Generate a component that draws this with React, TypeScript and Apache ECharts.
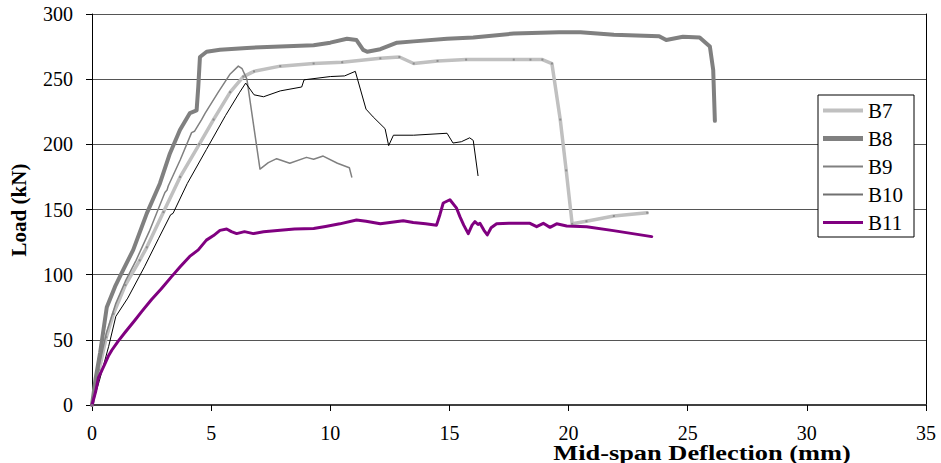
import React, { useEffect, useRef } from "react";
import * as echarts from "echarts";

// Mid-span deflection (mm), load (kN) pairs
const B7: [number, number][] = [
  [0, 0], [0.3, 27], [0.6, 52], [0.9, 70], [1.4, 92], [2.0, 111], [2.3, 121], [3.0, 148],
  [3.7, 175], [4.5, 200], [5.1, 219], [5.8, 240], [6.35, 252], [6.8, 256], [7.9, 260],
  [9.3, 262], [10.5, 263], [12.1, 266], [12.9, 267], [13.5, 262], [14.5, 264], [15.7, 265],
  [17.7, 265], [18.4, 265], [18.9, 265], [19.3, 262], [19.65, 219], [19.9, 180], [20.15, 139],
  [20.75, 141], [21.9, 145], [23.3, 147.5],
];
const B8: [number, number][] = [
  [0, 0], [0.15, 20], [0.34, 40], [0.62, 75], [0.97, 91], [1.32, 104], [1.73, 119], [2.3, 147],
  [2.85, 170], [3.27, 193], [3.69, 211], [4.11, 224], [4.39, 226], [4.46, 244], [4.53, 267],
  [4.81, 271], [5.37, 272.5], [6.5, 274], [7.9, 275], [9.3, 276], [10.0, 278], [10.7, 281],
  [11.1, 280], [11.38, 272.5], [11.55, 271], [12.1, 273], [12.8, 278], [13.5, 279], [14.9, 281],
  [16.0, 282], [17.7, 285], [19.6, 286], [20.5, 286], [21.9, 284], [23.8, 283], [24.1, 280],
  [24.8, 282.5], [25.5, 282], [25.93, 275], [26.07, 257], [26.14, 218],
];
const B9: [number, number][] = [
  [0, 0], [0.3, 30], [0.6, 55], [1.0, 78], [1.4, 95], [1.85, 111], [2.4, 133], [3.06, 163],
  [3.15, 165], [3.2, 168], [3.7, 188], [4.18, 209], [4.3, 210], [4.6, 219], [4.75, 224],
  [5.3, 240], [5.8, 254], [6.14, 260], [6.3, 258], [6.5, 250], [7.05, 181], [7.4, 186],
  [7.75, 189], [8.3, 185.5], [9.0, 190], [9.3, 188.5], [9.7, 191], [10.3, 185.5], [10.8, 182],
  [10.9, 175],
];
const B10: [number, number][] = [
  [0, 0], [0.3, 18], [0.7, 45], [1.0, 68], [1.5, 82], [2.2, 106], [2.8, 128], [3.3, 146],
  [3.4, 147], [4.0, 170], [4.8, 196], [5.6, 222], [6.2, 240], [6.45, 247], [6.8, 238],
  [7.2, 236.5], [7.9, 241], [8.8, 244], [8.9, 249.5], [10.0, 252], [10.6, 252.5], [11.05, 256],
  [11.5, 227], [11.8, 221], [12.3, 212], [12.45, 199], [12.65, 207], [13.5, 207], [14.9, 208.5],
  [15.15, 201], [15.5, 202], [15.85, 205], [16.0, 203], [16.2, 176],
];
const B11: [number, number][] = [
  [0, 0], [0.15, 10], [0.27, 21], [0.4, 26], [0.55, 32], [0.7, 38], [0.83, 42], [1.1, 49],
  [1.4, 56], [1.8, 65], [2.1, 72], [2.5, 81], [2.9, 89], [3.34, 98.5], [3.7, 106], [4.1, 114],
  [4.46, 119], [4.8, 126.5], [5.1, 130], [5.37, 134], [5.65, 135], [5.85, 133], [6.07, 131.5],
  [6.4, 133], [6.77, 131.5], [7.2, 133], [7.9, 134], [8.5, 135], [9.3, 135.5], [9.8, 137],
  [10.4, 139], [11.1, 142], [11.5, 141], [12.1, 139], [12.5, 140], [13.06, 141.4], [13.48, 140],
  [14.0, 139], [14.46, 138], [14.6, 146], [14.74, 155], [15.02, 157.5], [15.3, 151],
  [15.44, 144.5], [15.6, 138], [15.79, 131.5], [15.95, 138], [16.07, 140.7], [16.2, 138.5],
  [16.28, 139.4], [16.45, 134], [16.59, 130.5], [16.75, 136], [16.98, 139], [17.5, 139.4],
  [18.38, 139.4], [18.66, 136.8], [18.94, 139.4], [19.22, 136.3], [19.5, 139], [19.92, 137.4],
  [20.76, 136.8], [21.88, 133.8], [23.49, 129.2],
];

const SERIES_NAMES = ["B7", "B8", "B9", "B10", "B11"];
const X_TITLE = "Mid-span Deflection (mm)";
const Y_TITLE = "Load (kN)";

const FONT = "Liberation Serif";

const bar = (h: number) => `path://M0,0L40,0L40,${h}L0,${h}Z`;

export default function App() {
  const ref = useRef<HTMLDivElement>(null);
  useEffect(() => {
    if (!ref.current) return;
    const chart = echarts.init(ref.current, undefined, { renderer: "svg" });
    const line = (name: string, data: [number, number][], color: string, width: number) => ({
      name,
      type: "line",
      data,
      symbol: "none",
      smooth: false,
      lineStyle: { color, width, join: "round", cap: "round" },
      itemStyle: { color },
      z: 3,
    });
    chart.setOption({
      animation: false,
      backgroundColor: "#ffffff",
      textStyle: { fontFamily: FONT },
      grid: { left: 92, right: 15, top: 14, bottom: 58, containLabel: false },
      xAxis: {
        type: "value",
        min: 0,
        max: 35,
        interval: 5,
        axisLine: { show: true, onZero: false, lineStyle: { color: "#404040", width: 2 } },
        axisTick: { show: true, inside: false, length: 6, lineStyle: { color: "#000", width: 1 } },
        axisLabel: { color: "#000", fontSize: 20, fontFamily: FONT, margin: 18 },
        splitLine: { show: false },
      },
      yAxis: [
        {
          type: "value",
          min: 0,
          max: 300,
          interval: 50,
          axisLine: { show: true, lineStyle: { color: "#000", width: 1 } },
          axisTick: { show: true, inside: false, length: 6, lineStyle: { color: "#000", width: 1 } },
          axisLabel: { color: "#000", fontSize: 20, fontFamily: FONT, margin: 19 },
          splitLine: { show: true, lineStyle: { color: "#555", width: 1 } },
        },
        {
          type: "value",
          min: 0,
          max: 300,
          interval: 50,
          position: "right",
          axisLine: { show: true, lineStyle: { color: "#000", width: 1 } },
          axisTick: { show: false },
          axisLabel: { show: false },
          splitLine: { show: false },
        },
      ],
      legend: {
        orient: "vertical",
        left: 818,
        top: 95,
        data: [
          { name: SERIES_NAMES[0], icon: bar(4) },
          { name: SERIES_NAMES[1], icon: bar(5) },
          { name: SERIES_NAMES[2], icon: bar(2) },
          { name: SERIES_NAMES[3], icon: bar(2), itemStyle: { color: "#707070" } },
          { name: SERIES_NAMES[4], icon: bar(3) },
        ],
        itemWidth: 40,
        itemHeight: 14,
        itemGap: 7,
        padding: [5, 11, 4, 5],
        borderColor: "#000",
        borderWidth: 1,
        backgroundColor: "#fff",
        textStyle: { color: "#000", fontSize: 21, fontFamily: FONT, lineHeight: 20 },
        selectedMode: false,
      },
      graphic: [
        {
          type: "text",
          x: 702,
          y: 453,
          scaleX: 1.32,
          style: {
            text: X_TITLE,
            font: `bold 20px ${FONT}`,
            fill: "#000",
            align: "center",
            verticalAlign: "middle",
            textAlign: "center",
            textVerticalAlign: "middle",
          },
        },
        {
          type: "text",
          x: 19,
          y: 210,
          rotation: Math.PI / 2,
          style: {
            text: Y_TITLE,
            font: `bold 21px ${FONT}`,
            fill: "#000",
            align: "center",
            verticalAlign: "middle",
            textAlign: "center",
            textVerticalAlign: "middle",
          },
        },
      ],
      series: [
        line(SERIES_NAMES[0], B7, "#c0c0c0", 3.5),
        line(SERIES_NAMES[1], B8, "#808080", 4),
        line(SERIES_NAMES[2], B9, "#808080", 1.5),
        line(SERIES_NAMES[3], B10, "#000000", 1),
        line(SERIES_NAMES[4], B11, "#800080", 3),
        {
          name: "B7 points",
          type: "scatter",
          data: B7,
          symbol: "rect",
          symbolSize: 2,
          itemStyle: { color: "#808080" },
          z: 4,
          silent: true,
        },
      ],
    });
    return () => chart.dispose();
  }, []);
  return (
    <div
      ref={ref}
      style={{ position: "fixed", left: 0, top: 0, width: 941, height: 463, background: "#fff" }}
    />
  );
}
